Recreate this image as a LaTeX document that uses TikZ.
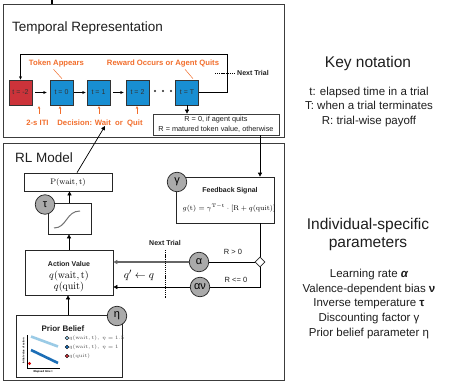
\documentclass[tikz,border=0pt]{standalone}
\usepackage[no-math]{fontspec}
\setmainfont{Liberation Sans}
\usetikzlibrary{arrows.meta,calc,shapes.geometric}
\definecolor{tred}{RGB}{204,51,58}
\definecolor{tblue}{RGB}{24,142,210}
\definecolor{torange}{RGB}{242,110,44}
\definecolor{cgray}{RGB}{170,170,170}
\definecolor{lblue}{RGB}{155,203,230}
\definecolor{dblue}{RGB}{28,110,182}
\definecolor{bord}{RGB}{60,60,60}
\definecolor{txt}{RGB}{30,30,30}
\begin{document}
\begin{tikzpicture}[x=1pt,y=-1pt,
  panel/.style={draw=bord, line width=0.8pt, anchor=north west, inner sep=0},
  tbox/.style={draw=black!80, line width=0.6pt, minimum width=23pt, minimum height=25pt, inner sep=0,
     font=\fontsize{7}{8}\selectfont, text=black!80},
  seqarr/.style={-{Stealth[length=3.5pt,width=3pt]}, line width=0.6pt},
  olbl/.style={text=torange, font=\bfseries\fontsize{7.7}{9}\selectfont, inner sep=0},
  oline/.style={draw=torange, line width=0.5pt},
  oarr/.style={-{Stealth[length=3pt,width=2.6pt]}, draw=torange, line width=0.6pt},
  wbox/.style={draw=black!85, line width=0.7pt, inner sep=0, fill=white},
  pcirc/.style={circle, draw=black!85, line width=0.7pt, fill=cgray, minimum size=19.5pt, inner sep=0,
     font=\fontsize{11}{12}\selectfont},
  tarr/.style={-{Triangle[length=4pt,width=4pt]}, line width=0.7pt},
  small/.style={font=\fontsize{7.5}{9}\selectfont, text=txt},
  boldsmall/.style={font=\bfseries\fontsize{7}{8}\selectfont, text=txt},
  head/.style={font=\fontsize{15.5}{18}\selectfont, text=txt, align=center},
  body/.style={font=\fontsize{11.5}{14.7}\selectfont, text=txt, align=center}
]
\useasboundingbox (0,0) rectangle (460,385);
\fill[white] (0,0) rectangle (460,385);
\draw[line width=1.8pt] (52,0) -- (52,4);

% ---------- Temporal representation ----------
\node (temp) [panel, minimum width=281pt, minimum height=133pt] at (3,4) {};
\node (temptitle) [anchor=base west, inner sep=0, font=\fontsize{13.5}{16}\selectfont, text=txt] at (12,32) {Temporal Representation};

\node (red) [tbox, fill=tred] at (20.5,92.5) {t = -2};
\node (t0) [tbox, fill=tblue] at (61.5,92.5) {t = 0};
\node (t1) [tbox, fill=tblue] at (98.5,92.5) {t = 1};
\node (t2) [tbox, fill=tblue] at (137.5,92.5) {t = 2};
\node (tT) [tbox, fill=tblue] at (187,92.5) {t = T};

\draw[seqarr, shorten <=3pt, shorten >=3pt] (red) -- (t0);
\draw[seqarr, shorten <=1pt, shorten >=1pt] (t0) -- (t1);
\draw[seqarr, shorten <=3pt, shorten >=2pt] (t1) -- (t2);
\foreach \x in {155,163,171} \fill[black!85] (\x,91) circle (1.2pt);

\coordinate (loopR) at (227,54);
\coordinate (loopL) at (20.5,54);
\draw[-{Stealth[length=3.5pt,width=3pt]}, line width=0.6pt] (tT.east) -| (loopR) -- (loopL) -- (red.north);

\node (nt1) [anchor=west, inner sep=0, font=\bfseries\fontsize{7}{8}\selectfont, text=txt] at (237,73) {Next Trial};
\coordinate (nt1d) at (215,73);
\draw[dash pattern=on 1.2pt off 0.9pt, line width=0.5pt] (nt1d) -- ($(nt1.west)+(-3,0)$);

\node (tok) [olbl] at (56.5,64) {Token Appears};
\node (rew) [olbl] at (163,64) {Reward Occurs or Agent Quits};
\draw[oline] ($(tok.south)+(-3,1.5)$) -- ($(t0.north)+(0.5,-1)$);
\draw[oline] ($(rew.south)+(22,1.5)$) -- ($(tT.north)+(6,-1)$);

\node (iti) [olbl] at (37.5,123) {2-s ITI};
\node (dec) [olbl] at (100,123) {Decision: Wait\ \ or\ \ Quit};
\coordinate (a1) at (39,114);
\coordinate (a2) at (60,114);
\coordinate (a3) at (99,114);
\coordinate (a4) at (137,114);
\foreach \c in {a1,a2,a3,a4} \draw[oarr] (\c) -- ++(0,-8);

\node (rbox) [draw=bord, line width=0.7pt, minimum width=126pt, minimum height=21pt, inner sep=0, align=center,
  font=\fontsize{7.3}{10}\selectfont, text=txt] at (216,124.5) {R = 0, if agent quits\\R = matured token value, otherwise};
\draw[tarr] (tT.south) -- (tT.south |- rbox.north);

% ---------- RL model ----------
\node (rl) [panel, minimum width=281pt, minimum height=237pt] at (3,143) {};
\node (rltitle) [anchor=base west, inner sep=0, font=\fontsize{13.5}{16}\selectfont, text=txt] at (15,162) {RL Model};

\node (pbox) [wbox, minimum width=88pt, minimum height=18pt, font=\fontsize{8.5}{10}\selectfont] at (68,182) {$\mathrm{P(wait,t)}$};
\coordinate (pend) at (105,126);
\draw[tarr] ($(pbox.north)+(9,0)$) -- (pend);

\node (sig) [wbox, minimum width=43pt, minimum height=31pt] at (69.5,218.5) {};
\draw[black!55, line width=1pt] (54,228) .. controls (67,228) and (66,211) .. (80,211);
\node (tau) [pcirc] at (45,204.5) {τ};
\draw[tarr] (sig.north) -- (sig.north |- pbox.south);

\node (av) [wbox, minimum width=88pt, minimum height=45pt, align=center] at (69,272.5) {};
\node (avt) [boldsmall] at (69,264) {Action Value};
\node (avq) [align=center, inner sep=0, font=\fontsize{10}{10.5}\selectfont] at (69,281.5) {$q(\mathrm{wait},\mathrm{t})$\\$q(\mathrm{quit})$};
\draw[tarr] (av.north) -- (av.north |- sig.south);

\node (prior) [wbox, minimum width=106pt, minimum height=62pt] at (69,346) {};
\node (eta) [pcirc] at (117,316) {η};
\draw[tarr] (prior.north -| 68,0) -- (av.south -| 68,0);
\node (pbt) [font=\bfseries\fontsize{8}{9}\selectfont, text=txt, inner sep=0] at (63,329) {Prior Belief};
\draw[line width=0.6pt] (27,335) -- (27,368) -- (60,368);
\node (ylab) [rotate=90, inner sep=0, font=\bfseries\fontsize{2.6}{3}\selectfont] at (23.5,351) {Initial value of action};
\node (xlab) [inner sep=0, font=\bfseries\fontsize{2.8}{3}\selectfont] at (43,372) {Elapsed time t};
\draw[lblue, line width=2.6pt] (31,336.5) -- (58,346.5);
\draw[dblue, line width=2.6pt] (31,350) -- (58,363);
\fill[red!85!black] (29.5,363.5) circle (1.7pt);
\draw[line width=0.4pt, fill=lblue] (67,338) circle (1.9pt);
\draw[line width=0.4pt, fill=dblue] (67,347) circle (1.9pt);
\draw[line width=0.4pt, fill=tred] (67,356) circle (1.9pt);
\node (leg) [anchor=west, align=left, inner sep=0, font=\fontsize{5.5}{9}\selectfont, text=black!70] at (69,347)
  {$q(\mathrm{wait},\mathrm{t}),\ \eta=1.5$\\$q(\mathrm{wait},\mathrm{t}),\ \eta=1$\\$q(\mathrm{quit})$};

\node (fb) [wbox, minimum width=98pt, minimum height=46pt] at (225,200) {};
\node (gam) [pcirc] at (177,182) {γ};
\node (fbt) [boldsmall] at (230,191) {Feedback Signal};
\node (fbf) [inner sep=0, font=\fontsize{7.2}{8}\selectfont] at (229,208) {$g(\mathrm{t})=\gamma^{\mathrm{T-t}}\cdot[\mathrm{R}+q(\mathrm{quit})]$};
\draw[tarr] (rbox.south -| 260,0) -- (fb.north -| 260,0);

\node (dia) [diamond, draw=black!85, fill=white, line width=0.6pt, minimum size=10pt, inner sep=0] at (260,262) {};
\draw[line width=0.7pt] (fb.south -| dia.north) -- (dia.north);
\node (alp) [pcirc] at (199,262) {α};
\node (alnu) [pcirc] at (200,287) {αν};
\draw[line width=0.7pt] (dia.west) -- (alp.east);
\draw[line width=0.7pt] (dia.south) |- (alnu.east);
\draw[-{Triangle[length=4pt,width=4pt]}, black!60, line width=1.1pt] (alp.west) -- (alp.west -| av.east);
\draw[tarr] (alnu.west) -- (alnu.west -| av.east);

\node (rpos) [small] at (233,252) {R > 0};
\node (rneg) [small] at (236,280) {R <= 0};
\node (nt2) [boldsmall] at (165,243) {Next Trial};
\coordinate (nt2e) at (165,298);
\draw[dash pattern=on 1.2pt off 0.9pt, line width=0.5pt] ($(nt2.south)+(0,1)$) -- (nt2e);
\node (qq) [font=\fontsize{11}{12}\selectfont] at (139,275) {$q'\leftarrow q$};

% ---------- right column ----------
\node (keyt) [head] at (368,63) {Key notation};
\node (keyl) [body] at (369,107)
  {t: elapsed time in a trial\\T: when a trial terminates\\R: trial-wise payoff};
\node (indt) [head] at (368,234) {Individual-specific\\parameters};
\node (pars) [body] at (369,304)
  {Learning rate {\bfseries\itshape α}\\Valence-dependent bias {\bfseries ν}\\Inverse temperature {\bfseries τ}\\Discounting factor γ\\Prior belief parameter η};
\end{tikzpicture}
\end{document}
